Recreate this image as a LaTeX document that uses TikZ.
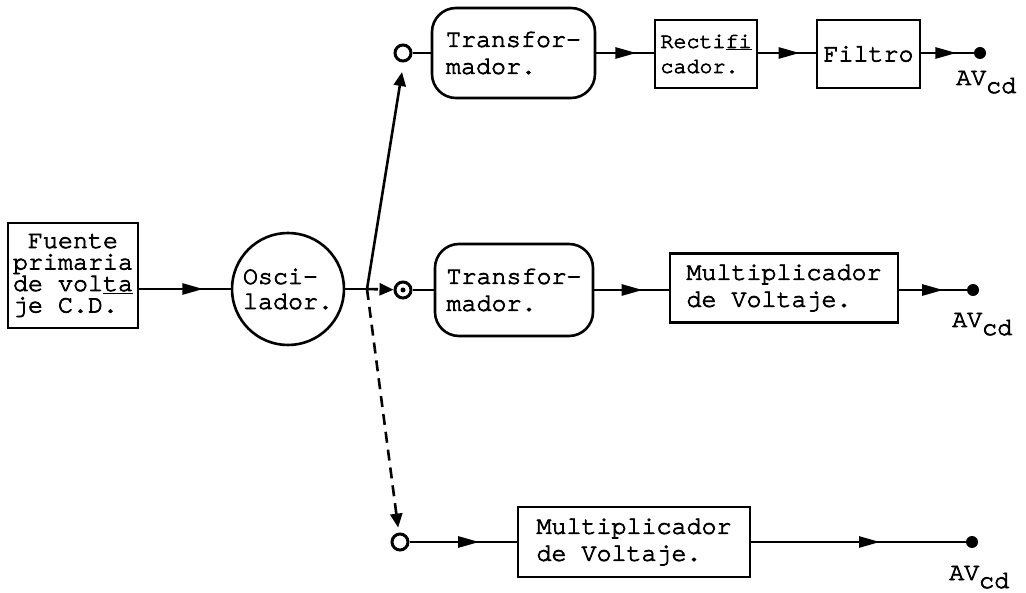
\documentclass[tikz,border=0pt]{standalone}
\usepackage{fontspec}
\newfontfamily\typer{TeX Gyre Cursor}[FakeBold=3, Ligatures=NoCommon]
\usetikzlibrary{arrows.meta,decorations.markings}

\begin{document}
\begin{tikzpicture}[x=1pt,y=-1pt,
  every node/.style={font=\typer\fontsize{25}{27}\selectfont},
  blk/.style={draw, line width=2.6pt, inner sep=0pt, align=left},
  rblk/.style={blk, rounded corners=24pt},
  port/.style={draw, circle, line width=3pt, minimum size=16pt, inner sep=0pt},
  outdot/.style={fill, circle, minimum size=12pt, inner sep=0pt},
  wire/.style={line width=2.6pt},
  dashwire/.style={line width=2.6pt, dash pattern=on 11pt off 7pt},
  midarrow/.style={postaction={decorate}, decoration={markings,
      mark=at position #1 with {\arrow{Triangle[length=21pt,width=11pt]}}}},
  smalltip/.style={-{Triangle[length=14pt,width=12pt]}},
  outlabel/.style={anchor=base west, inner sep=0pt}
]
\useasboundingbox (0,0) rectangle (1026,593);

% source and oscillator
\node[blk, minimum width=130pt, minimum height=105pt,
      font=\typer\fontsize{25}{21.5}\selectfont] (fuente) at (73,275.5)
  {\hphantom{F}Fuente\\primaria\\de vol\underline{ta}\\je C.D.};
\node[draw, circle, line width=2.6pt, minimum size=112pt, inner sep=0pt, align=left,
      font=\typer\fontsize{25}{25}\selectfont] (osc) at (288,289)
  {Osci-\\lador.};
\coordinate (j) at (367,289);
\coordinate (tipA) at (402,72);

\draw[wire, midarrow=0.7] (fuente.east |- osc) -- (osc);
\draw[wire] (osc) -- (j);

% branch ports
\node[port] (c1) at (403,53) {};
\node[port] (c2) at (403,290) {};
\node[port] (c3) at (400,542) {};
\fill (c2) circle (2.5pt);

\draw[wire, smalltip] (j) -- (tipA);
\draw[dashwire, smalltip] (j) -- (c2);
\draw[dashwire, smalltip, shorten >=5pt] (j) -- (c3);

% upper chain
\node[rblk, minimum width=163pt, minimum height=90pt] (tr1) at (513.5,53)
  {Transfor-\\mador.};
\node[blk, minimum width=102pt, minimum height=68pt,
      font=\typer\fontsize{21.7}{25}\selectfont] (rect) at (706,54)
  {Recti\underline{f\kern0pt i}\\cador.};
\node[blk, minimum width=103pt, minimum height=68pt] (filt) at (868.5,54) {Filtro};
\node[outdot] (d1) at (980,53) {};
\node[outlabel] (l1) at (956,85) {AV\raisebox{-8pt}{cd}};

\draw[wire] (c1) -- (tr1);
\draw[wire, midarrow=0.7] (tr1.east |- c1) -- (rect.west |- c1);
\draw[wire, midarrow=0.72] (rect.east |- c1) -- (filt.west |- c1);
\draw[wire, midarrow=0.67] (filt.east |- d1) -- (d1);

% middle chain
\node[rblk, minimum width=158pt, minimum height=92pt] (tr2) at (514,290)
  {Transfor-\\mador.};
\node[blk, minimum width=228pt, minimum height=69pt] (mul2) at (784,288)
  {Multiplicador\\de Voltaje.};
\node[outdot] (d2) at (973,290) {};
\node[outlabel] (l2) at (952,327) {AV\raisebox{-8pt}{cd}};

\draw[wire] (c2) -- (tr2.west |- c2);
\draw[wire, midarrow=0.65] (tr2.east |- c2) -- (mul2.west |- c2);
\draw[wire, midarrow=0.65] (mul2.east |- d2) -- (d2);

% lower chain
\node[blk, minimum width=232pt, minimum height=70pt] (mul3) at (634,542)
  {Multiplicador\\de Voltaje.};
\node[outdot] (d3) at (972,542) {};
\node[outlabel] (l3) at (949,580) {AV\raisebox{-8pt}{cd}};

\draw[wire, midarrow=0.65] (c3) -- (mul3);
\draw[wire, midarrow=0.6] (mul3) -- (d3);
\end{tikzpicture}
\end{document}
